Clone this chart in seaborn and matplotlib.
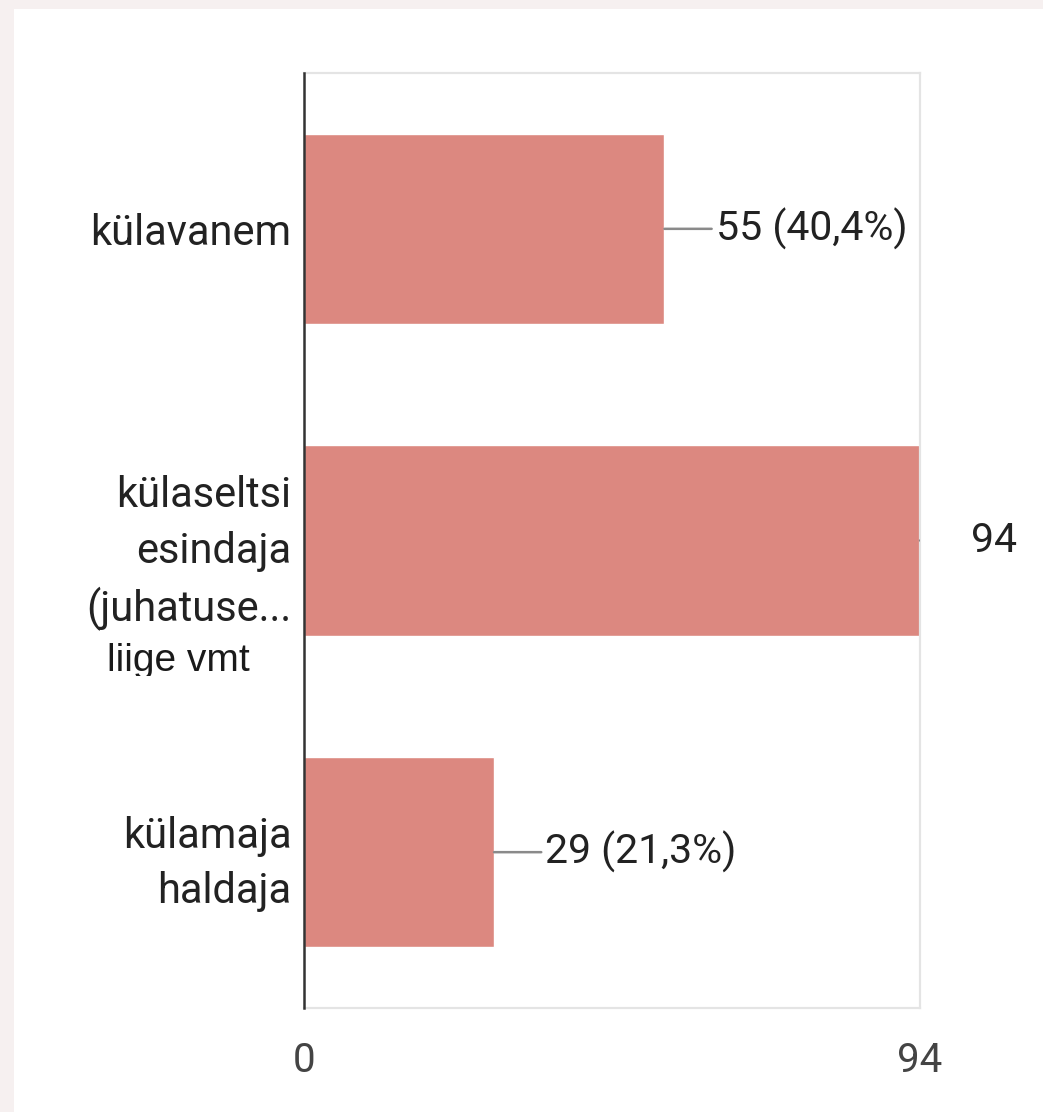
import matplotlib.pyplot as plt
import matplotlib.patches as mpatches
from matplotlib.transforms import Bbox, TransformedBbox
import pandas as pd
import seaborn as sns

# data
categories = ['külavanem', 'külaseltsi\nesindaja\n(juhatuse...', 'külamaja\nhaldaja']
counts = [55, 94, 29]
value_labels = ['55 (40,4%)', '94', '29 (21,3%)']
x_ticks = [0, 94]

df = pd.DataFrame({'category': categories, 'count': counts})

sns.set_theme(style='white')
plt.rcParams['font.family'] = ['Roboto', 'DejaVu Sans']

fig = plt.figure(figsize=(10.43, 11.12), dpi=100)
fig.patch.set_facecolor('#f6f0f0')
# white card behind the chart
fig.patches.append(mpatches.Rectangle((14 / 1043, 0), 1, 1 - 9 / 1112,
                                      transform=fig.transFigure, facecolor='white',
                                      edgecolor='none', zorder=-5))

ax = fig.add_axes([304 / 1043, 1 - 1008 / 1112, (920 - 304) / 1043, (1008 - 73) / 1112])
ax.set_facecolor('white')

sns.barplot(data=df, x='count', y='category', orient='h', color='#dc8880',
            saturation=1, width=0.61, ax=ax)

ax.set_xlim(0, 94)
ax.set_xticks(x_ticks)
ax.set_xticklabels([str(t) for t in x_ticks])
ax.set_xlabel('')
ax.set_ylabel('')

for side in ['top', 'right', 'bottom']:
    ax.spines[side].set_color('#e4e4e4')
    ax.spines[side].set_linewidth(1.6)
ax.spines['left'].set_color('#333333')
ax.spines['left'].set_linewidth(1.8)
ax.spines['left'].set_zorder(5)

ax.tick_params(axis='x', length=0, pad=24, labelsize=29, labelcolor='#444444')
ax.tick_params(axis='y', length=0, pad=9, labelsize=30, labelcolor='#222222')
for lbl in ax.get_yticklabels():
    lbl.set_multialignment('right')
    lbl.set_linespacing(1.45)

# value labels with leader lines (lines clipped to the plot area)
for i, (v, txt) in enumerate(zip(counts, value_labels)):
    line = ax.annotate('', xy=(v, i), xycoords='data', xytext=(34, 0), textcoords='offset points',
                       arrowprops=dict(arrowstyle='-', color='#8a8a8a', lw=1.8,
                                       shrinkA=0, shrinkB=0), annotation_clip=False)
    line.arrow_patch.set_clip_box(ax.bbox)
    line.arrow_patch.set_clip_on(True)
    ax.annotate(txt, xy=(v, i), xycoords='data', xytext=(37, 0), textcoords='offset points',
                ha='left', va='center', fontsize=29.5, color='#222222', annotation_clip=False)

# the cut-off last line of the long category label
t = fig.text(107 / 1043, 1 - 671 / 1112, 'liige vmt', ha='left', va='baseline',
             fontsize=28, color='#1a1a1a', family=['Liberation Sans', 'DejaVu Sans'])
t.set_clip_box(TransformedBbox(Bbox([[0, 1 - 676 / 1112], [1, 1]]), fig.transFigure))
t.set_clip_on(True)

fig.savefig('out.png', dpi=100, facecolor=fig.get_facecolor())
